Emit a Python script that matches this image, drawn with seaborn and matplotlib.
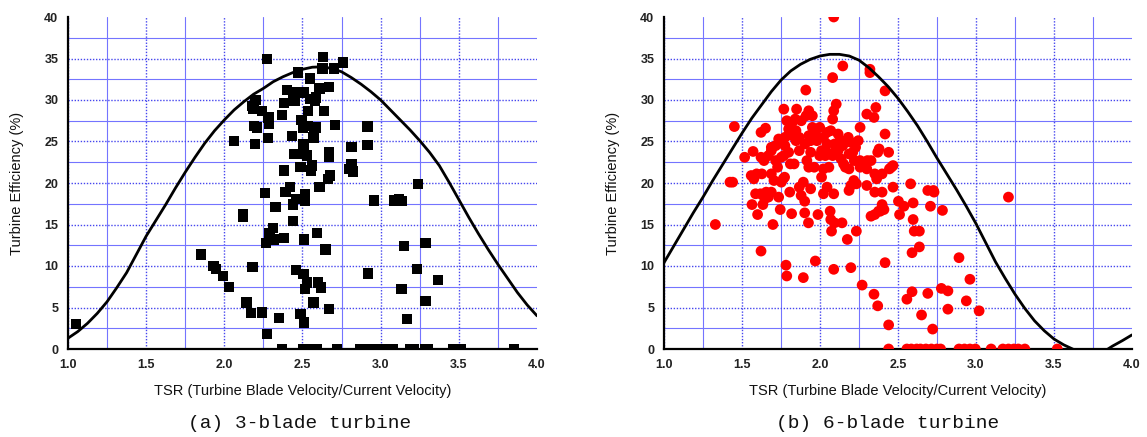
import matplotlib
matplotlib.use("Agg")
import matplotlib.pyplot as plt
import seaborn as sns
import pandas as pd
from matplotlib.ticker import MultipleLocator, FormatStrFormatter

# ---------------- data ----------------
# 3-blade turbine measured points (TSR, efficiency %)
tsr3 = [1.052, 1.849, 1.931, 1.947, 1.992, 2.031, 2.061, 2.118, 2.118, 2.141,
        2.170, 2.181, 2.200, 2.181, 2.186, 2.191, 2.209, 2.198, 2.243, 2.243,
        2.259, 2.273, 2.282, 2.284, 2.278, 2.266, 2.273, 2.289, 2.312, 2.319,
        2.328, 2.351, 2.369, 2.380, 2.380, 2.380, 2.392, 2.403, 2.419, 2.433,
        2.442, 2.449, 2.449, 2.437, 2.437, 2.460, 2.460, 2.472, 2.488, 2.488,
        2.494, 2.501, 2.506, 2.510, 2.506, 2.510, 2.510, 2.517, 2.517, 2.510,
        2.506, 2.517, 2.529, 2.529, 2.533, 2.547, 2.533, 2.551, 2.556, 2.563,
        2.570, 2.570, 2.574, 2.579, 2.586, 2.586, 2.592, 2.597, 2.608, 2.608,
        2.620, 2.627, 2.631, 2.638, 2.647, 2.661, 2.670, 2.670, 2.670, 2.677,
        2.670, 2.700, 2.707, 2.761, 2.798, 2.814, 2.814, 2.825, 2.916, 2.916,
        2.921, 2.958, 3.088, 3.117, 3.133, 3.133, 3.149, 3.167, 3.240, 3.231,
        3.286, 3.286, 3.368,
        2.369, 2.506, 2.540, 2.570, 2.592, 2.722, 2.871, 2.905, 2.939, 2.974,
        3.008, 3.042, 3.076, 3.190, 3.213, 3.282, 3.305, 3.464, 3.510, 3.852]
eff3 = [3.0, 11.4, 10.0, 9.6, 8.8, 7.5, 25.1, 16.3, 15.9, 5.6,
        4.3, 9.9, 30.0, 29.3, 28.9, 26.9, 26.7, 24.7, 28.7, 4.4,
        18.8, 34.9, 27.9, 27.1, 25.4, 12.8, 1.8, 14.0, 14.6, 13.2,
        17.1, 3.7, 28.2, 29.6, 21.5, 13.4, 18.9, 31.2, 19.5, 25.7,
        30.9, 29.9, 23.5, 17.4, 15.4, 18.1, 9.5, 33.3, 21.9, 4.2,
        27.6, 26.7, 24.7, 23.5, 30.9, 3.2, 24.1, 17.8, 18.7, 13.2,
        9.0, 7.2, 8.0, 23.3, 28.7, 32.6, 26.9, 30.1, 21.5, 22.1,
        25.5, 5.6, 26.5, 29.9, 30.3, 26.7, 14.0, 8.0, 19.5, 31.4,
        7.4, 33.8, 35.2, 28.7, 12.0, 20.5, 31.6, 23.7, 23.1, 20.9,
        4.8, 33.8, 27.0, 34.5, 21.7, 24.3, 22.3, 21.4, 26.8, 24.6,
        9.1, 17.9, 17.9, 18.1, 17.8, 7.2, 12.4, 3.6, 19.9, 9.6,
        12.8, 5.8, 8.3,
        0, 0, 0, 0, 0, 0, 0, 0, 0, 0,
        0, 0, 0, 0, 0, 0, 0, 0, 0, 0]

# 6-blade turbine measured points (TSR, efficiency %)
tsr6 = [2.088, 2.146, 2.081, 2.320, 2.320, 2.417, 1.909, 1.768, 1.850, 1.928,
        2.104, 2.088, 2.358, 2.300, 2.346, 2.257, 2.081, 1.451, 1.651, 1.622,
        2.417, 2.379, 2.370, 2.468, 2.445, 2.468, 2.581, 2.597, 2.503, 2.538,
        2.510, 2.597, 2.604, 2.637, 2.590, 2.637, 2.691, 2.731, 2.727, 2.708,
        2.785, 2.891, 2.961, 2.938, 3.020, 2.778, 2.820, 2.820, 3.208, 2.557,
        2.590, 2.691, 2.651, 2.722, 2.440, 2.417, 2.346, 2.370, 2.270, 2.198,
        2.088, 1.970, 1.893, 1.787, 1.782, 1.622, 1.329, 1.423, 1.440, 1.517,
        1.571, 1.559, 1.576, 1.564, 1.600, 1.618, 1.634, 1.646, 1.622, 1.641,
        1.627, 1.669, 1.688, 1.705, 1.688, 1.698, 1.735, 1.745, 1.752, 1.716,
        1.752, 1.775, 1.799, 1.822, 1.846, 1.810, 1.834, 1.768, 1.764, 1.806,
        1.818, 1.773, 1.867, 1.879, 1.902, 1.893, 1.902, 1.926, 1.940, 1.904,
        1.928, 1.951, 1.940, 1.916, 1.928, 1.963, 1.980, 1.970, 1.998, 2.022,
        2.010, 2.034, 2.010, 2.022, 1.987, 2.045, 2.069, 2.081, 2.057, 2.088,
        2.065, 2.069, 2.074, 2.093, 2.141, 2.175, 2.233, 2.116, 2.128, 2.116,
        2.151, 2.163, 2.181, 2.198, 2.210, 2.186, 2.228, 2.220, 2.257, 2.281,
        2.304, 2.327, 2.300, 2.217, 2.198, 2.186, 2.300, 2.351, 2.363, 2.351,
        2.398, 2.398, 2.398, 2.410, 2.375, 2.351, 2.327, 2.386, 2.440, 2.457,
        2.104, 2.135, 2.022, 1.867, 1.846, 1.822, 1.716, 1.688, 1.669, 1.728,
        1.799, 1.775, 1.867, 1.880, 1.911, 1.951, 2.045, 1.998, 2.045, 2.186,
        2.257, 2.233, 1.735, 1.688, 1.655, 1.587, 1.594, 1.841, 1.787, 2.045,
        2.093, 2.146, 2.245, 1.940,
        2.440, 2.557, 2.585, 2.620, 2.644, 2.679, 2.714, 2.750, 2.773, 2.891,
        2.926, 2.961, 2.996, 3.097, 3.172, 3.208, 3.243, 3.271, 3.313, 3.521]
eff6 = [40.0, 34.1, 32.7, 33.7, 33.3, 31.1, 31.2, 28.9, 28.9, 28.7,
        29.5, 28.7, 29.1, 28.3, 27.9, 26.7, 27.7, 26.8, 26.6, 26.1,
        25.9, 24.1, 23.7, 22.1, 21.7, 19.5, 19.9, 17.6, 17.8, 17.2,
        16.2, 15.6, 14.2, 14.2, 11.6, 12.3, 19.1, 18.9, 19.1, 17.2,
        16.7, 11.0, 8.4, 5.8, 4.6, 7.3, 7.0, 4.8, 18.3, 6.0,
        6.9, 6.7, 4.1, 2.4, 2.9, 10.4, 6.6, 5.2, 7.7, 9.8,
        9.6, 10.6, 8.6, 8.8, 10.1, 11.8, 15.0, 20.1, 20.1, 23.1,
        23.8, 20.9, 20.5, 17.4, 16.2, 18.7, 17.4, 18.1, 23.1, 22.7,
        21.1, 18.3, 18.9, 20.3, 24.3, 15.0, 18.3, 16.8, 20.1, 22.7,
        23.1, 25.5, 26.5, 27.3, 26.3, 22.3, 22.3, 23.3, 20.5, 18.9,
        16.3, 20.7, 19.5, 18.5, 17.8, 20.1, 16.4, 15.2, 19.3, 24.7,
        25.7, 26.7, 23.7, 22.7, 21.9, 21.9, 25.1, 26.1, 26.7, 25.5,
        23.9, 23.3, 20.7, 18.7, 16.2, 23.7, 26.3, 23.3, 21.9, 18.7,
        16.6, 15.6, 14.2, 15.2, 15.2, 13.2, 14.2, 25.9, 25.1, 23.9,
        22.3, 21.9, 25.5, 24.9, 23.7, 23.5, 24.3, 22.7, 22.7, 22.3,
        22.7, 22.7, 21.7, 20.3, 19.7, 19.1, 19.7, 21.1, 20.5, 18.9,
        21.1, 18.9, 17.4, 16.8, 16.6, 16.2, 16.0, 16.6, 23.7, 21.9,
        24.1, 22.9, 21.7, 23.9, 25.1, 25.7, 24.5, 23.9, 23.3, 21.9,
        23.7, 24.5, 25.5, 27.5, 28.1, 28.1, 26.1, 23.3, 19.5, 21.7,
        21.9, 19.9, 25.3, 21.1, 18.9, 18.7, 21.1, 27.7, 27.5, 24.7,
        24.7, 24.5, 25.1, 25.1,
        0, 0, 0, 0, 0, 0, 0, 0, 0, 0,
        0, 0, 0, 0, 0, 0, 0, 0, 0, 0]

# fitted efficiency curves
curve_tsr = [1.0, 1.0625, 1.125, 1.1875, 1.25, 1.3125, 1.375, 1.4375,
             1.5, 1.5625, 1.625, 1.6875, 1.75, 1.8125, 1.875, 1.9375,
             2.0, 2.0625, 2.125, 2.1875, 2.25, 2.3125, 2.375, 2.4375,
             2.5, 2.5625, 2.625, 2.6875, 2.75, 2.8125, 2.875, 2.9375,
             3.0, 3.0625, 3.125, 3.1875, 3.25, 3.3125, 3.375, 3.4375,
             3.5, 3.5625, 3.625, 3.6875, 3.75, 3.8125, 3.875, 3.9375, 4.0]
curve3 = [1.3, 2.1, 3.1, 4.3, 5.7, 7.4, 9.2, 11.4,
          13.6, 15.5, 17.4, 19.4, 21.3, 23.1, 24.8, 26.3,
          27.6, 28.8, 29.8, 30.7, 31.4, 32.2, 32.8, 33.3,
          33.7, 33.95, 34.0, 33.8, 33.4, 32.7, 31.9, 31.0,
          30.0, 28.8, 27.6, 26.4, 25.1, 23.7, 22.1, 20.1,
          18.0, 15.9, 13.9, 12.0, 10.2, 8.5, 6.8, 5.3, 4.0]
curve6 = [10.4, 12.4, 14.4, 16.4, 18.3, 20.3, 22.2, 24.1,
          26.0, 27.8, 29.4, 31.0, 32.4, 33.5, 34.3, 34.9,
          35.3, 35.5, 35.5, 35.3, 34.8, 33.9, 32.8, 31.6,
          30.2, 28.6, 26.9, 25.0, 23.0, 21.1, 19.2, 17.2,
          15.1, 12.8, 10.5, 8.5, 6.6, 4.9, 3.4, 2.2,
          1.2, 0.5, -0.05, -0.5, -0.8, -0.4, 0.35, 1.0, 1.7]

x_ticks = [1.0, 1.5, 2.0, 2.5, 3.0, 3.5, 4.0]
y_ticks = [0, 5, 10, 15, 20, 25, 30, 35, 40]
xlabel = "TSR (Turbine Blade Velocity/Current Velocity)"
ylabel = "Turbine Efficiency (%)"
captions = ["(a) 3-blade turbine", "(b) 6-blade turbine"]

# ---------------- figure ----------------
sns.set_style("white")
plt.rcParams['font.family'] = ['Liberation Sans', 'DejaVu Sans']

W, H = 1147, 437
fig = plt.figure(figsize=(W / 100, H / 100), dpi=100)
ax1 = fig.add_axes([68 / W, 1 - 349 / H, 469 / W, 332 / H])
ax2 = fig.add_axes([664 / W, 1 - 349 / H, 468 / W, 332 / H])

MINOR_GRID = '#7474ff'


def style(ax):
    ax.set_xlim(1, 4)
    ax.set_ylim(0, 40)
    ax.set_xticks(x_ticks)
    ax.set_yticks(y_ticks)
    ax.xaxis.set_minor_locator(MultipleLocator(0.25))
    ax.yaxis.set_minor_locator(MultipleLocator(2.5))
    ax.xaxis.set_major_formatter(FormatStrFormatter('%.1f'))
    for s in ['top', 'right']:
        ax.spines[s].set_visible(False)
    for s in ['left', 'bottom']:
        ax.spines[s].set_color('black')
        ax.spines[s].set_linewidth(1.6)
    ax.tick_params(which='major', direction='out', length=4.5, width=1.2,
                   labelsize=9, pad=2.5, color='black')
    ax.tick_params(which='minor', direction='out', length=2.5, width=1.0,
                   color='black')
    ax.tick_params(which='major', grid_color='#4646ee', grid_linewidth=1.0,
                   grid_linestyle=(0, (1, 1.2)))
    ax.tick_params(which='minor', grid_color=MINOR_GRID, grid_linewidth=0.8,
                   grid_linestyle='-', grid_alpha=1.0)
    ax.grid(True, which='both')
    ax.set_axisbelow(True)
    for lab in ax.get_xticklabels() + ax.get_yticklabels():
        lab.set_fontweight('bold')
        lab.set_color('#222222')
    ax.xaxis.get_major_ticks()[-1].gridline.set_visible(False)
    ax.yaxis.get_major_ticks()[-1].gridline.set_visible(False)
    ax.set_xlabel(xlabel, fontsize=10.5, color='#111111')
    ax.set_ylabel(ylabel, fontsize=10.5, color='#111111')
    ax.xaxis.set_label_coords(0.5, -0.105)
    ax.yaxis.set_label_coords(-0.094, 0.5)


df3 = pd.DataFrame({'tsr': tsr3, 'eff': eff3})
df6 = pd.DataFrame({'tsr': tsr6, 'eff': eff6})
dc = pd.DataFrame({'tsr': curve_tsr, 'c3': curve3, 'c6': curve6})

sns.scatterplot(data=df3, x='tsr', y='eff', ax=ax1, marker='s', s=55,
                color='black', edgecolor='none', zorder=3)
sns.lineplot(data=dc, x='tsr', y='c3', ax=ax1, color='black', linewidth=2.0,
             zorder=4)

sns.scatterplot(data=df6, x='tsr', y='eff', ax=ax2, marker='o', s=60,
                color='#ff0000', edgecolor='none', zorder=3)
sns.lineplot(data=dc, x='tsr', y='c6', ax=ax2, color='black', linewidth=2.0,
             zorder=4)

style(ax1)
style(ax2)

fig.text(300 / W, 1 - 423 / H, captions[0], ha='center', va='center',
         fontsize=14, family=['Liberation Mono', 'DejaVu Sans Mono'], color='#111111')
fig.text(888 / W, 1 - 423 / H, captions[1], ha='center', va='center',
         fontsize=14, family=['Liberation Mono', 'DejaVu Sans Mono'], color='#111111')

fig.savefig("out.png", dpi=100)
